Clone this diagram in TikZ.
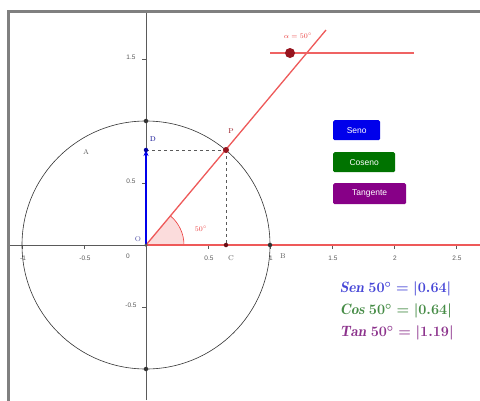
\documentclass[tikz,border=0pt]{standalone}
\usepackage{fontspec}
\setsansfont{Liberation Sans}
\usetikzlibrary{arrows.meta}
\definecolor{frame}{RGB}{128,128,128}
\definecolor{axis}{RGB}{90,90,90}
\definecolor{ggred}{RGB}{235,60,60}
\definecolor{ptred}{RGB}{150,20,30}
\definecolor{bblue}{RGB}{0,0,235}
\definecolor{bgreen}{RGB}{0,115,0}
\definecolor{bpurple}{RGB}{135,0,135}
\definecolor{tblue}{RGB}{70,70,215}
\definecolor{tgreen}{RGB}{70,140,70}
\definecolor{tpurple}{RGB}{140,50,140}
\tikzset{
  tick/.style={axis,line width=0.6pt},
  ticklab/.style={font=\sffamily\fontsize{6.5}{7}\selectfont,text=axis,inner sep=0pt},
  ptlab/.style={font=\fontsize{7}{8}\selectfont,inner sep=0pt},
  dot/.style={circle,fill=#1,inner sep=0pt,minimum size=4.5pt},
  button/.style={rounded corners=1.5pt,fill=#1,text=white,font=\sffamily\fontsize{8.5}{9}\selectfont,inner sep=0pt,anchor=north west},
  formula/.style={font=\fontsize{15}{18}\selectfont\boldmath,anchor=west,inner sep=0pt},
}
\begin{document}
\begin{tikzpicture}[x=1pt,y=-1pt]
\useasboundingbox (0,0) rectangle (480,400);
\fill[white] (0,0) rectangle (480,400);
% frame
\draw[frame,line width=3pt] (8.5,401) -- (8.5,11.5) -- (481,11.5);
% coordinates
\coordinate (O) at (146,245);
\coordinate (xl) at (10,245);
\coordinate (xr) at (480,245);
\coordinate (yt) at (146,13);
\coordinate (yb) at (146,400);
\coordinate (Ptop) at (326,30);
% angle sector
\fill[ggred!18] (O) -- (184,245) arc[start angle=0,end angle=-50,radius=38] -- cycle;
\draw[ggred,line width=0.6pt] (184,245) arc[start angle=0,end angle=-50,radius=38];
% axes
\draw[axis,line width=0.7pt] (xl) -- (xr);
\draw[axis,line width=0.7pt] (yb) -- (yt);
% x ticks
\foreach \x/\l in {22/-1,84/-0.5,208/0.5,270/1,332/1.5,394/2,456/2.5}{
  \draw[tick] (\x,245) -- (\x,249);
  \node[ticklab] at (\x+1,258) {\l};
}
\node[ticklab] (zero) at (128,256) {0};
% y ticks
\foreach \y/\l in {59/1.5,183/0.5,307/-0.5}{
  \draw[tick] (142,\y) -- (146,\y);
  \node[ticklab] at (131,\y-2) {\l};
}
% circle
\draw[black!80,line width=0.6pt] (O) circle[radius=124];
% red rays
\draw[ggred!85,line width=1.3pt] (O) -- (xr);
\draw[ggred!85,line width=1.3pt] (O) -- (Ptop);
% points
\coordinate (P) at (226,150);
\coordinate (D) at (146,150);
\coordinate (C) at (226,245);
% dashed
\draw[axis,dashed,line width=0.6pt] (D) -- (P);
\draw[axis,dashed,line width=0.6pt] (P) -- (C);
% blue vector
\draw[bblue,line width=1.6pt,-{Stealth[length=6pt,width=5pt]}] (O) -- (D);
\node[dot=bblue!70!black] (Dd) at (D) {};
\node[dot=ptred,minimum size=6pt] (Pd) at (P) {};
\node[dot=ptred!70!black] (Cd) at (C) {};
\node[dot=black!80] (Bd) at (270,245) {};
\node[dot=black!80] (Td) at (146,121) {};
\node[dot=black!80] (Ld) at (146,369) {};
\node[dot=axis,minimum size=3.5pt] (Od) at (O) {};
% labels
\node[ptlab,text=ptred] (Plab) at (231,131) {P};
\node[ptlab,text=bblue!60!black] (Dlab) at (153,139) {D};
\node[ptlab,text=axis] (Clab) at (231,258) {C};
\node[ptlab,text=axis] (Alab) at (86,152) {A};
\node[ptlab,text=axis] (Blab) at (283,256) {B};
\node[ptlab,text=tblue!60!axis] (Olab) at (138,239) {O};
\node[ptlab,text=ggred] (anglab) at (201,229) {50$^\circ$};
% slider
\coordinate (sl) at (270,53);
\coordinate (sr) at (414,53);
\draw[ggred!80,line width=1.6pt] (sl) -- (sr);
\node[dot=ptred,minimum size=10pt] (sd) at (290,53) {};
\node[ptlab,text=ggred] (slab) at (298,36) {$\alpha = 50^\circ$};
% buttons
\node[button=bblue,minimum width=47pt,minimum height=20pt] (seno) at (333,120) {Seno};
\node[button=bgreen,minimum width=62pt,minimum height=20pt] (coseno) at (333,152) {Coseno};
\node[button=bpurple,minimum width=73pt,minimum height=21pt] (tang) at (333,183) {Tangente};
% formulas
\node[formula,text=tblue] (fsen) at (340,289) {$\mathit{Sen}\ 50^\circ = |0.64|$};
\node[formula,text=tgreen] (fcos) at (340,311) {$\mathit{Cos}\ 50^\circ = |0.64|$};
\node[formula,text=tpurple] (ftan) at (340,333) {$\mathit{Tan}\ 50^\circ = |1.19|$};
\end{tikzpicture}
\end{document}
